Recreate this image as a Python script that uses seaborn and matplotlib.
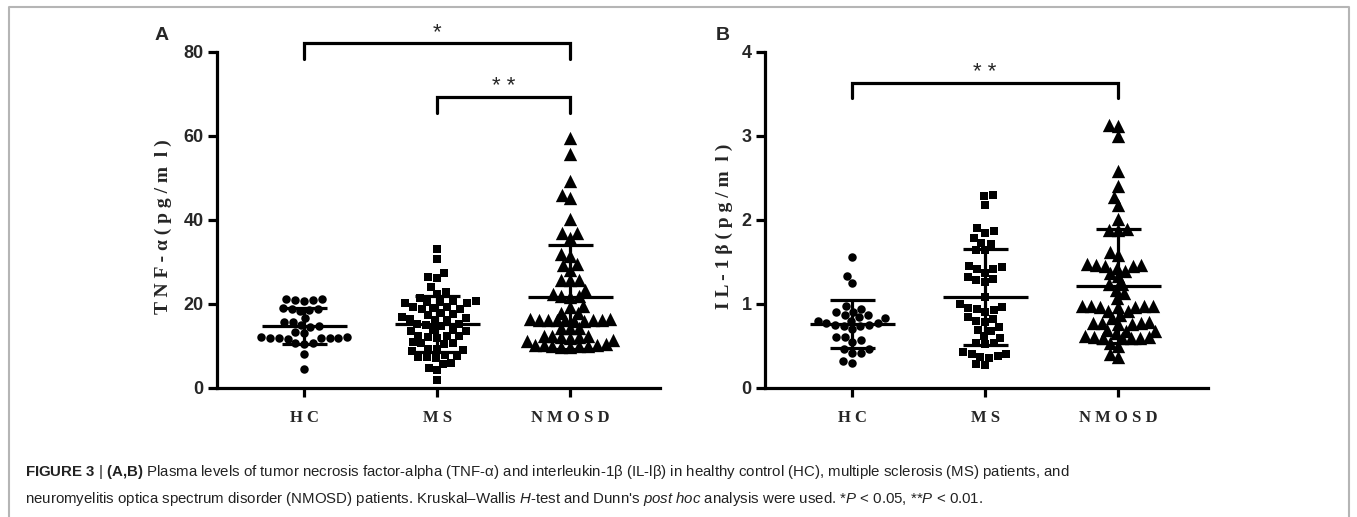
import numpy as np
import pandas as pd
import matplotlib
matplotlib.use("Agg")
import matplotlib.pyplot as plt
import seaborn as sns

groups = ["HC", "MS", "NMOSD"]
tick_names = ["H C", "M S", "N M O S D"]
markers = ["o", "s", "^"]

# TNF-alpha (pg/ml)
tnf_hc = [21.2, 21.0, 20.8, 20.9, 21.1, 18.9, 18.6, 18.4, 18.7, 19.0, 16.7,
          15.8, 15.6, 14.8, 14.5, 14.9, 13.4, 13.0, 12.0, 11.8, 12.1, 11.9,
          12.2, 11.7, 12.0, 11.8, 10.8, 10.5, 10.6, 8.0, 4.6]
tnf_ms = [33.0, 30.7, 27.4, 26.4, 26.2, 24.0, 22.8, 22.5, 21.5,
          20.6, 20.4, 20.5, 20.3, 20.7, 20.2, 19.2, 19.0, 18.9, 19.3, 18.8,
          17.8, 17.6, 17.4, 16.5, 16.3, 16.8, 16.2, 16.6, 15.2, 15.0, 14.7,
          15.3, 13.8, 13.5, 13.9, 13.6, 12.3, 12.0, 12.5, 12.1, 12.4,
          10.8, 10.5, 10.9, 10.6, 9.4, 9.0, 9.2, 8.8, 7.6, 7.4, 7.2, 7.8,
          7.5, 6.0, 5.8, 4.8, 4.2, 1.8]
tnf_nmosd = [59.5, 55.8, 49.4, 45.3, 46.0, 40.3, 37.0, 36.8, 35.8,
             31.5, 31.8, 29.3, 29.6, 28.2, 25.8, 25.6, 25.7,
             22.5, 23.3, 21.8, 21.6, 21.9, 19.5, 19.3, 17.8, 17.9,
             16.3, 16.2, 16.0, 16.4, 16.1, 16.3, 16.2, 16.0, 16.4, 16.1,
             14.3, 14.4, 14.2, 12.3, 12.1, 12.4, 12.0, 12.2, 12.3,
             11.4, 11.3, 10.2, 10.1, 10.3, 10.0, 10.2, 10.4, 9.8, 9.9, 9.7]

# IL-1beta (pg/ml)
il_hc = [1.56, 1.33, 1.25, 0.98, 0.94, 0.91, 0.91, 0.87, 0.87, 0.84, 0.83,
         0.80, 0.80, 0.77, 0.77, 0.75, 0.74, 0.74, 0.75, 0.70, 0.61, 0.61,
         0.57, 0.55, 0.47, 0.47, 0.42, 0.42, 0.32, 0.30]
il_ms = [2.30, 2.28, 2.18, 1.90, 1.85, 1.87, 1.79, 1.73, 1.72, 1.64, 1.64,
         1.44, 1.42, 1.37, 1.42, 1.45, 1.32, 1.30, 1.26, 1.28, 1.08, 1.00,
         0.96, 0.94, 0.91, 0.93, 0.95, 0.82, 0.80, 0.84, 0.78, 0.73,
         0.69, 0.68, 0.62, 0.60, 0.53, 0.54, 0.52,
         0.41, 0.40, 0.36, 0.38, 0.37, 0.43, 0.28, 0.27]
il_nmosd = [3.13, 3.12, 3.00, 2.58, 2.40, 2.27, 2.18, 2.01, 1.88, 1.89, 1.88,
            1.58, 1.62, 1.46, 1.45, 1.43, 1.46, 1.45, 1.48, 1.37, 1.39, 1.33,
            1.24, 1.24, 1.13, 1.17, 1.07,
            0.98, 0.97, 0.98, 0.92, 0.92, 0.97, 0.98, 0.97, 0.98, 0.87, 0.83,
            0.77, 0.76, 0.77, 0.76, 0.77, 0.78, 0.69, 0.68, 0.68, 0.66,
            0.61, 0.60, 0.59, 0.62, 0.60, 0.61, 0.59, 0.54, 0.50, 0.37, 0.41]

# significance brackets: (from, to, height, leg bottom, label)
tnf_sig = [(0, 2, 82.1, 78.3, "*"), (1, 2, 69.3, 65.5, "* *")]
il_sig = [(0, 2, 3.63, 3.45, "* *")]

caption = [
    r"$\mathbf{FIGURE\ 3}$ | $\mathbf{(A{,}B)}$ Plasma levels of tumor necrosis "
    "factor-alpha (TNF-α) and interleukin-1β (IL-lβ) in healthy control (HC), "
    "multiple sclerosis (MS) patients, and",
    "neuromyelitis optica spectrum disorder (NMOSD) patients. Kruskal–Wallis "
    r"$\mathit{H}$-test and Dunn's $\mathit{post\ hoc}$ analysis were used. "
    r"*$\mathit{P}$ < 0.05, **$\mathit{P}$ < 0.01.",
]


def long_frame(values):
    rows = []
    for g, vals in zip(groups, values):
        rows += [(g, v) for v in vals]
    return pd.DataFrame(rows, columns=["group", "value"])


sns.set_theme(style="ticks")
plt.rcParams["font.family"] = ["Liberation Sans", "DejaVu Sans"]
plt.rcParams["mathtext.fontset"] = "custom"
plt.rcParams["mathtext.rm"] = "Liberation Sans"
plt.rcParams["mathtext.it"] = "Liberation Sans:italic"
plt.rcParams["mathtext.bf"] = "Liberation Sans:bold"

W, H = 1357, 517
fig = plt.figure(figsize=(W / 100, H / 100), dpi=100)
fig.patch.set_facecolor("white")

# swarm is laid out with a small marker, then frozen and drawn bigger so the
# points overlap a bit like in the GraphPad original
shown_size = {"o": 9.8, "s": 9.0, "^": 9.6}
swarms = []


def panel(left, df, ylim, yticks, ylabel, sig, letter, letter_x):
    ax = fig.add_axes([left / W, (H - 388) / H, 443 / W, 336 / H])
    ax.set_xlim(-0.655, 2.675)
    ax.set_ylim(*ylim)
    for g, m in zip(groups, markers):
        sns.swarmplot(data=df[df.group == g], x="group", y="value",
                      order=groups, marker=m, color="black", size=6.1,
                      linewidth=0, ax=ax, zorder=3)
        swarms.append((ax.collections[-1], m))
    ax.set_xlim(-0.655, 2.675)
    ax.set_ylim(*ylim)
    stats = df.groupby("group")["value"].agg(["mean", "std"]).reindex(groups)
    for i, g in enumerate(groups):
        mu, sd = stats.loc[g, "mean"], stats.loc[g, "std"]
        ax.hlines(mu, i - 0.32, i + 0.32, color="black", lw=2.3, zorder=4)
        ax.vlines(i, mu - sd, mu + sd, color="black", lw=2.3, zorder=4)
        ax.hlines([mu - sd, mu + sd], i - 0.17, i + 0.17, color="black",
                  lw=2.3, zorder=4)
    for a, b, top, leg, lab in sig:
        ax.plot([a, a, b, b], [leg, top, top, leg], color="black", lw=2.3,
                clip_on=False, solid_joinstyle="miter", zorder=5)
        ax.annotate(lab, ((a + b) / 2, top), xytext=(0, 0),
                    textcoords="offset points", ha="center", va="bottom",
                    fontsize=16, annotation_clip=False)
    ax.set_yticks(yticks)
    ax.set_xticks(range(3))
    ax.set_xticklabels(tick_names, fontfamily="Liberation Serif",
                       fontweight="bold", fontsize=12)
    ax.set_yticklabels([str(t) for t in yticks], fontweight="bold",
                       fontsize=13)
    ax.set_xlabel("")
    ax.set_ylabel(ylabel, fontfamily=["Liberation Serif", "DejaVu Serif"],
                  fontweight="bold", fontsize=14)
    ax.yaxis.label.set_verticalalignment("center")
    ax.yaxis.set_label_coords((letter_x + 1 - left) / 443, 0.48)
    sns.despine(ax=ax)
    for s in ("left", "bottom"):
        ax.spines[s].set_linewidth(2.3)
        ax.spines[s].set_color("black")
    ax.tick_params(axis="both", width=2.3, length=6.5, color="black")
    ax.tick_params(axis="y", pad=3)
    ax.tick_params(axis="x", pad=9)
    ax.set_facecolor("none")
    fig.text(letter_x / W, 1 - 35 / H, letter, ha="center", va="center",
             fontsize=14, fontweight="bold")
    return ax


panel(217, long_frame([tnf_hc, tnf_ms, tnf_nmosd]), (0, 80),
      [0, 20, 40, 60, 80], "T N F - α ( p g / m  l )", tnf_sig, "A", 162)
panel(765, long_frame([il_hc, il_ms, il_nmosd]), (0, 4),
      [0, 1, 2, 3, 4], "I L - 1 β ( p g / m  l )", il_sig, "B", 723)

# light grey frame around the figure and its caption
fig.add_artist(plt.Line2D([9 / W, 9 / W, 1349 / W, 1349 / W],
                          [-0.05, 1 - 7 / H, 1 - 7 / H, -0.05],
                          transform=fig.transFigure, color="#b5b5b5", lw=1.5))

for k, line in enumerate(caption):
    fig.text(25 / W, 1 - (472 + 27 * k) / H, line, ha="left", va="center",
             fontsize=10.8, color="#222222")

# run the swarm layout once, then freeze it and enlarge the markers
fig.canvas.draw()
for coll, m in swarms:
    if "draw" in coll.__dict__:
        del coll.draw
    coll.set_sizes([shown_size[m] ** 2])

fig.savefig("out.png", dpi=100)
